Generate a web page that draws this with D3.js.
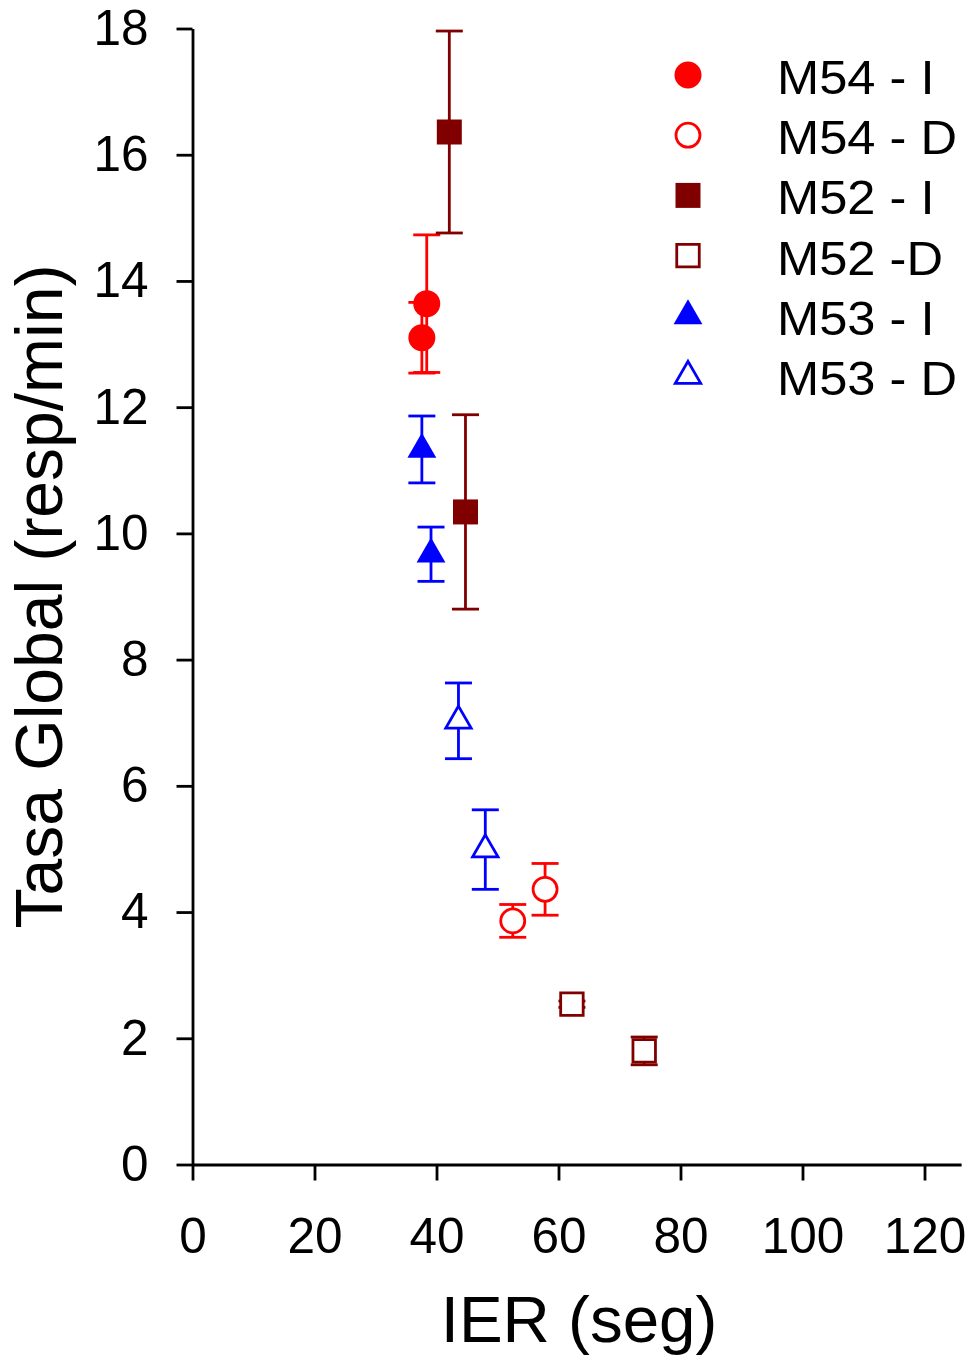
<!DOCTYPE html>
<html>
<head>
<meta charset="utf-8">
<script src="https://cdn.jsdelivr.net/npm/d3@7"></script>
<style>
    body { margin: 0; background: #fff; }
    text { font-family: "Liberation Sans", Arial, sans-serif; fill: #000; }
</style>
</head>
<body>
<script>
// series
let seriesNames = ["M54 - I", "M54 - D", "M52 - I", "M52 -D", "M53 - I", "M53 - D"];
let m54I_x = [38.4, 37.6], m54I_y = [13.64, 13.10], m54I_err = [1.09, 0.56];
let m54D_x = [52.5, 57.8], m54D_y = [3.86, 4.36], m54D_err = [0.26, 0.41];
let m52I_x = [42.1, 44.75], m52I_y = [16.36, 10.34], m52I_err = [1.6, 1.54];
let m52D_x = [62.2, 74.05], m52D_y = [2.54, 1.80], m52D_err = [0.05, 0.22];
let m53I_x = [37.6, 39.1], m53I_y = [11.33, 9.67], m53I_err = [0.53, 0.43];
let m53D_x = [43.6, 48.0], m53D_y = [7.03, 4.99], m53D_err = [0.6, 0.63];
let xTicks = [0, 20, 40, 60, 80, 100, 120];
let yTicks = [0, 2, 4, 6, 8, 10, 12, 14, 16, 18];

let width = 973, height = 1361;
let red = "#ff0000", dark = "#800000", blue = "#0000ff";

let series = [
    {name: seriesNames[0], xs: m54I_x, ys: m54I_y, err: m54I_err, color: red, shape: "circle", filled: true},
    {name: seriesNames[1], xs: m54D_x, ys: m54D_y, err: m54D_err, color: red, shape: "circle", filled: false},
    {name: seriesNames[2], xs: m52I_x, ys: m52I_y, err: m52I_err, color: dark, shape: "square", filled: true},
    {name: seriesNames[3], xs: m52D_x, ys: m52D_y, err: m52D_err, color: dark, shape: "square", filled: false},
    {name: seriesNames[4], xs: m53I_x, ys: m53I_y, err: m53I_err, color: blue, shape: "triangle", filled: true},
    {name: seriesNames[5], xs: m53D_x, ys: m53D_y, err: m53D_err, color: blue, shape: "triangle", filled: false}
];

let svg = d3.select("body").append("svg")
    .attr("width", width)
    .attr("height", height);

let x = d3.scaleLinear().domain([0, 126]).range([192.5, 961.1]);
let y = d3.scaleLinear().domain([0, 18]).range([1164.5, 28.5]);

// marker path, centred on 0,0
function markerPath(shape, filled) {
    if (shape === "circle") {
        let r = filled ? 13.5 : 12;
        return d3.symbol(d3.symbolCircle, Math.PI * r * r)();
    }
    if (shape === "square") {
        let s = filled ? 25 : 22.5;
        return d3.symbol(d3.symbolSquare, s * s)();
    }
    // triangle, centroid at origin
    let h = filled ? 25 : 22;
    let k = h / 3;
    return d3.symbol(d3.symbolTriangle, k * k * 3 * Math.sqrt(3))();
}

// axes
let xAxis = svg.append("g")
    .attr("transform", `translate(0,${y(0)})`)
    .call(d3.axisBottom(x).tickValues(xTicks).tickSize(16).tickSizeOuter(0).tickPadding(37));
let yAxis = svg.append("g")
    .attr("transform", `translate(${x(0)},0)`)
    .call(d3.axisLeft(y).tickValues(yTicks).tickSize(16).tickSizeOuter(0).tickPadding(28));

[xAxis, yAxis].forEach(a => {
    a.selectAll("path, line").attr("stroke", "#000").attr("stroke-width", 2.8);
    a.selectAll("text").style("font-size", "49.5px").style("font-family", "'Liberation Sans', Arial, sans-serif");
});

// error bars behind markers
let capW = 27;
let plot = svg.append("g");
series.forEach(s => {
    let g = plot.append("g").attr("class", "err");
    s.xs.forEach((xv, i) => {
        let cx = x(xv), top = y(s.ys[i] + s.err[i]), bot = y(s.ys[i] - s.err[i]);
        g.append("line").attr("x1", cx).attr("x2", cx).attr("y1", top).attr("y2", bot);
        g.append("line").attr("x1", cx - capW / 2).attr("x2", cx + capW / 2).attr("y1", top).attr("y2", top);
        g.append("line").attr("x1", cx - capW / 2).attr("x2", cx + capW / 2).attr("y1", bot).attr("y2", bot);
    });
    g.selectAll("line").attr("stroke", s.color).attr("stroke-width", 2.8);
});

series.forEach(s => {
    plot.append("g").selectAll("path")
        .data(s.xs.map((xv, i) => ({x: xv, y: s.ys[i]})))
        .enter().append("path")
        .attr("d", markerPath(s.shape, s.filled))
        .attr("transform", d => `translate(${x(d.x)},${y(d.y)})`)
        .attr("fill", s.filled ? s.color : "#fff")
        .attr("stroke", s.filled ? "none" : s.color)
        .attr("stroke-width", 2.8);
});

// legend
let legend = svg.append("g").attr("class", "legend");
series.forEach((s, i) => {
    let ly = 75 + i * 60.2;
    legend.append("path")
        .attr("d", markerPath(s.shape, s.filled))
        .attr("transform", `translate(688,${ly})`)
        .attr("fill", s.filled ? s.color : "#fff")
        .attr("stroke", s.filled ? "none" : s.color)
        .attr("stroke-width", 2.8);
    // text in the picture is a bit wider than the font, so stretch it
    legend.append("text")
        .attr("transform", `translate(777,${ly + 19}) scale(1.055,1)`)
        .style("font-size", "48px")
        .text(s.name);
});

// axis titles
svg.append("text")
    .attr("x", 579)
    .attr("y", 1342)
    .attr("text-anchor", "middle")
    .style("font-size", "65.5px")
    .text("IER (seg)");

svg.append("text")
    .attr("transform", `translate(62,${(y(0) + y(18)) / 2}) rotate(-90)`)
    .attr("text-anchor", "middle")
    .style("font-size", "66px")
    .text("Tasa Global (resp/min)");
</script>
</body>
</html>
